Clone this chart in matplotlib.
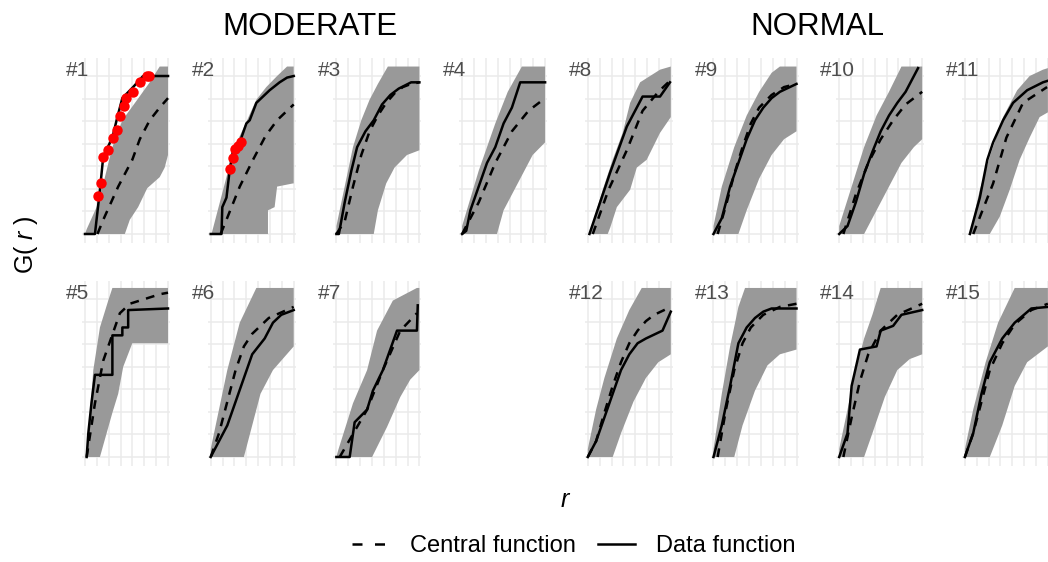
import numpy as np
import matplotlib
matplotlib.use("Agg")
import matplotlib.pyplot as plt
from matplotlib.lines import Line2D

plt.rcParams["font.family"] = ["Liberation Sans", "DejaVu Sans"]
plt.rcParams["mathtext.fontset"] = "custom"
plt.rcParams["mathtext.it"] = "Liberation Sans:italic"
plt.rcParams["mathtext.rm"] = "Liberation Sans"

# -------------------------------
# DATA  (r scaled to 0..1, G(r) values)
# -------------------------------
GROUPS = ["MODERATE", "NORMAL"]
# panel id -> (group column, row) ; #4 sits in the top row, bottom right is empty
LAYOUT = {
    1: (0, 0), 2: (1, 0), 3: (2, 0), 4: (3, 0),
    5: (0, 1), 6: (1, 1), 7: (2, 1),
    8: (4, 0), 9: (5, 0), 10: (6, 0), 11: (7, 0),
    12: (4, 1), 13: (5, 1), 14: (6, 1), 15: (7, 1),
}

env_upper = {
    1: [(0, 0), (0.02, 0.03), (0.14, 0.17), (0.24, 0.36), (0.33, 0.55), (0.45, 0.72), (0.63, 0.85), (0.78, 0.96), (0.9, 1.06), (1, 1.06)],
    2: [(0.01, 0), (0.11, 0.2), (0.19, 0.36), (0.27, 0.53), (0.43, 0.71), (0.55, 0.85), (0.67, 0.93), (0.8, 1.0), (0.92, 1.06), (1, 1.06)],
    3: [(0, 0.05), (0.1, 0.3), (0.2, 0.55), (0.3, 0.72), (0.4, 0.85), (0.5, 0.95), (0.62, 1.06), (1, 1.06)],
    4: [(0, 0.05), (0.2, 0.4), (0.4, 0.7), (0.55, 0.9), (0.72, 1.06), (1, 1.06)],
    5: [(0.02, 0), (0.1, 0.55), (0.18, 0.82), (0.28, 0.99), (0.33, 1.07), (1, 1.07)],
    6: [(0, 0.05), (0.1, 0.3), (0.2, 0.55), (0.35, 0.85), (0.55, 1.07), (1, 1.07)],
    7: [(0.02, 0.04), (0.2, 0.34), (0.37, 0.55), (0.49, 0.8), (0.68, 0.99), (0.97, 1.07), (1, 1.07)],
    8: [(0.02, 0), (0.18, 0.28), (0.3, 0.47), (0.42, 0.64), (0.51, 0.83), (0.63, 0.96), (0.87, 1.04), (1, 1.06)],
    9: [(0, 0.05), (0.1, 0.3), (0.25, 0.55), (0.4, 0.75), (0.55, 0.9), (0.7, 1.02), (0.8, 1.06), (1, 1.06)],
    10: [(0, 0.05), (0.15, 0.3), (0.3, 0.55), (0.45, 0.75), (0.6, 0.9), (0.75, 1.06), (1, 1.06)],
    11: [(0.06, 0), (0.18, 0.28), (0.3, 0.49), (0.46, 0.74), (0.63, 0.91), (0.78, 1.0), (0.94, 1.04), (1, 1.05)],
    12: [(0, 0.05), (0.1, 0.3), (0.2, 0.5), (0.35, 0.75), (0.5, 0.93), (0.65, 1.07), (1, 1.07)],
    13: [(0, 0.05), (0.1, 0.4), (0.2, 0.7), (0.3, 0.95), (0.38, 1.07), (1, 1.07)],
    14: [(0, 0.05), (0.1, 0.3), (0.2, 0.55), (0.3, 0.75), (0.4, 0.9), (0.5, 1.07), (1, 1.07)],
    15: [(0, 0.05), (0.1, 0.3), (0.25, 0.6), (0.4, 0.85), (0.6, 1.07), (1, 1.07)],
}

env_lower = {
    1: [(0, 0), (0.48, 0), (0.54, 0.09), (0.64, 0.17), (0.75, 0.29), (0.9, 0.36), (0.96, 0.42), (1, 0.5)],
    2: [(0, 0), (0.69, 0), (0.69, 0.15), (0.77, 0.17), (0.8, 0.3), (0.99, 0.32), (1, 0.32)],
    3: [(0, 0), (0.45, 0), (0.5, 0.15), (0.6, 0.32), (0.7, 0.42), (0.85, 0.5), (1, 0.53)],
    4: [(0, 0), (0.42, 0), (0.5, 0.15), (0.7, 0.35), (0.85, 0.5), (1, 0.58)],
    5: [(0, 0), (0.18, 0), (0.33, 0.28), (0.4, 0.4), (0.46, 0.57), (0.57, 0.72), (1, 0.72)],
    6: [(0, 0), (0.4, 0), (0.5, 0.2), (0.6, 0.4), (0.75, 0.55), (1, 0.7)],
    7: [(0, 0), (0.43, 0), (0.61, 0.19), (0.77, 0.38), (0.89, 0.49), (1, 0.55)],
    8: [(0, 0), (0.24, 0), (0.27, 0.04), (0.35, 0.17), (0.51, 0.28), (0.59, 0.42), (0.71, 0.47), (0.87, 0.64), (1, 0.74)],
    9: [(0, 0), (0.3, 0), (0.4, 0.15), (0.55, 0.35), (0.7, 0.5), (0.85, 0.6), (1, 0.65)],
    10: [(0, 0), (0.3, 0), (0.45, 0.15), (0.6, 0.3), (0.75, 0.45), (0.9, 0.55), (1, 0.6)],
    11: [(0, 0), (0.3, 0), (0.42, 0.11), (0.54, 0.28), (0.66, 0.47), (0.78, 0.61), (0.9, 0.74), (1, 0.77)],
    12: [(0, 0), (0.3, 0), (0.4, 0.15), (0.55, 0.35), (0.7, 0.5), (0.85, 0.6), (1, 0.65)],
    13: [(0, 0), (0.25, 0), (0.35, 0.2), (0.5, 0.42), (0.65, 0.58), (0.8, 0.65), (1, 0.68)],
    14: [(0, 0), (0.3, 0), (0.4, 0.15), (0.55, 0.38), (0.7, 0.55), (0.85, 0.62), (1, 0.65)],
    15: [(0, 0), (0.3, 0), (0.45, 0.2), (0.6, 0.45), (0.75, 0.6), (1, 0.7)],
}

central = {
    1: [(0.15, 0), (0.22, 0.09), (0.4, 0.3), (0.57, 0.47), (0.66, 0.6), (0.78, 0.72), (0.9, 0.8), (1, 0.86)],
    2: [(0.12, 0), (0.19, 0.09), (0.35, 0.3), (0.51, 0.47), (0.66, 0.62), (0.8, 0.72), (0.92, 0.78), (1, 0.82)],
    3: [(0, 0), (0.1, 0.08), (0.2, 0.3), (0.3, 0.5), (0.4, 0.65), (0.5, 0.75), (0.6, 0.83), (0.7, 0.89), (0.8, 0.93), (0.9, 0.95), (1, 0.96)],
    4: [(0, 0), (0.2, 0.2), (0.4, 0.45), (0.6, 0.65), (0.8, 0.78), (1, 0.86)],
    5: [(0.02, 0), (0.12, 0.34), (0.22, 0.61), (0.32, 0.76), (0.42, 0.91), (0.54, 0.97), (0.9, 1.03), (1, 1.04)],
    6: [(0, 0), (0.1, 0.15), (0.2, 0.35), (0.3, 0.55), (0.4, 0.7), (0.5, 0.78), (0.7, 0.88), (1, 0.95)],
    7: [(0.04, 0), (0.37, 0.3), (0.56, 0.55), (0.77, 0.8), (0.97, 0.91)],
    8: [(0.06, 0), (0.25, 0.28), (0.47, 0.53), (0.66, 0.78), (0.85, 0.9), (0.99, 0.97)],
    9: [(0.05, 0), (0.15, 0.18), (0.25, 0.38), (0.35, 0.55), (0.45, 0.7), (0.55, 0.8), (0.7, 0.88), (0.85, 0.93), (1, 0.95)],
    10: [(0.05, 0), (0.2, 0.25), (0.35, 0.45), (0.5, 0.6), (0.65, 0.72), (0.8, 0.82), (1, 0.9)],
    11: [(0.1, 0), (0.34, 0.32), (0.5, 0.61), (0.7, 0.83), (0.99, 0.93)],
    12: [(0, 0), (0.1, 0.1), (0.2, 0.28), (0.3, 0.45), (0.4, 0.6), (0.5, 0.72), (0.6, 0.8), (0.7, 0.86), (0.8, 0.9), (1, 0.95)],
    13: [(0.05, 0), (0.15, 0.3), (0.25, 0.55), (0.35, 0.72), (0.45, 0.82), (0.6, 0.9), (0.8, 0.95), (1, 0.97)],
    14: [(0.05, 0), (0.15, 0.25), (0.25, 0.48), (0.35, 0.65), (0.5, 0.8), (0.7, 0.9), (1, 0.97)],
    15: [(0, 0), (0.1, 0.15), (0.2, 0.35), (0.3, 0.55), (0.45, 0.72), (0.6, 0.84), (0.8, 0.93), (1, 0.97)],
}

observed = {
    1: [(0, 0), (0.12, 0), (0.18, 0.28), (0.22, 0.49), (0.33, 0.61), (0.39, 0.74), (0.45, 0.86), (0.58, 0.93), (0.7, 1.0), (1, 1.0)],
    2: [(0, 0), (0.13, 0), (0.14, 0.17), (0.19, 0.23), (0.23, 0.41), (0.27, 0.53), (0.35, 0.58), (0.43, 0.7), (0.47, 0.72), (0.55, 0.83), (0.63, 0.87), (0.71, 0.91), (0.83, 0.96), (0.92, 0.99), (1, 1.0)],
    3: [(0, 0), (0.03, 0), (0.1, 0.2), (0.18, 0.4), (0.25, 0.55), (0.35, 0.65), (0.45, 0.72), (0.55, 0.82), (0.65, 0.88), (0.75, 0.92), (0.9, 0.96), (1, 0.96)],
    4: [(0, 0), (0.05, 0.02), (0.1, 0.15), (0.2, 0.3), (0.3, 0.45), (0.4, 0.55), (0.5, 0.7), (0.6, 0.8), (0.7, 0.96), (1, 0.96)],
    5: [(0.02, 0), (0.04, 0.15), (0.08, 0.35), (0.12, 0.52), (0.33, 0.52), (0.33, 0.77), (0.45, 0.77), (0.45, 0.82), (0.52, 0.82), (0.52, 0.93), (1, 0.94)],
    6: [(0, 0), (0.1, 0.1), (0.2, 0.2), (0.3, 0.35), (0.4, 0.5), (0.5, 0.65), (0.65, 0.75), (0.75, 0.85), (0.85, 0.9), (1, 0.93)],
    7: [(0, 0), (0.16, 0), (0.22, 0.22), (0.37, 0.3), (0.44, 0.42), (0.56, 0.55), (0.73, 0.8), (0.97, 0.8), (0.98, 0.96)],
    8: [(0.02, 0), (0.27, 0.39), (0.47, 0.68), (0.59, 0.8), (0.66, 0.87), (0.87, 0.87), (0.99, 0.96)],
    9: [(0, 0), (0.1, 0.1), (0.2, 0.3), (0.3, 0.45), (0.4, 0.6), (0.5, 0.72), (0.6, 0.8), (0.7, 0.86), (0.8, 0.9), (1, 0.95)],
    10: [(0, 0), (0.1, 0.05), (0.2, 0.2), (0.3, 0.38), (0.4, 0.52), (0.5, 0.65), (0.6, 0.75), (0.7, 0.83), (0.8, 0.9), (0.9, 1.0), (0.95, 1.05)],
    11: [(0.06, 0), (0.18, 0.23), (0.27, 0.47), (0.34, 0.58), (0.46, 0.72), (0.58, 0.83), (0.75, 0.91), (0.94, 0.96), (1, 0.97)],
    12: [(0, 0), (0.1, 0.1), (0.2, 0.25), (0.3, 0.4), (0.4, 0.55), (0.5, 0.65), (0.6, 0.72), (0.7, 0.75), (0.9, 0.8), (1, 0.92)],
    13: [(0, 0), (0.1, 0.2), (0.2, 0.45), (0.3, 0.72), (0.4, 0.82), (0.5, 0.88), (0.6, 0.92), (0.7, 0.94), (1, 0.94)],
    14: [(0, 0), (0.1, 0.15), (0.15, 0.45), (0.25, 0.68), (0.45, 0.7), (0.5, 0.8), (0.65, 0.83), (0.75, 0.9), (1, 0.93)],
    15: [(0, 0), (0.1, 0.15), (0.2, 0.4), (0.3, 0.6), (0.45, 0.75), (0.6, 0.85), (0.8, 0.94), (1, 0.95)],
}

# data points falling outside the envelope
outside = {
    1: [(0.16, 0.24), (0.19, 0.32), (0.22, 0.49), (0.28, 0.53), (0.34, 0.61), (0.39, 0.66), (0.42, 0.75),
        (0.47, 0.81), (0.49, 0.86), (0.58, 0.9), (0.66, 0.96), (0.75, 1.0), (0.77, 1.0)],
    2: [(0.23, 0.41), (0.27, 0.48), (0.29, 0.54), (0.33, 0.56), (0.37, 0.58)],
}

# -------------------------------
# FIGURE / PANEL GEOMETRY (pixels)
# -------------------------------
W, H = 1048, 562
fig = plt.figure(figsize=(W / 100, H / 100), dpi=100)

PANEL_W, PANEL_H = 88, 185
COL_LEFT0, COL_STEP = 82, 125.7
ROW_TOP = [58, 281]
LW = 1.8

grid_ticks = np.arange(8) / 7


def add_panel(col, row):
    left = COL_LEFT0 + COL_STEP * col
    top = ROW_TOP[row]
    ax = fig.add_axes([left / W, 1 - (top + PANEL_H) / H, PANEL_W / W, PANEL_H / H])
    ax.set_xlim(-0.036, 1.024)
    ax.set_ylim(-0.057, 1.114)
    ax.set_xticks(grid_ticks)
    ax.set_yticks(grid_ticks)
    ax.grid(True, color="#EBEBEB", linewidth=1.1)
    ax.set_axisbelow(True)
    ax.tick_params(length=0, labelbottom=False, labelleft=False)
    for s in ax.spines.values():
        s.set_visible(False)
    ax.patch.set_alpha(0)
    return ax, left, top


for pid, (col, row) in LAYOUT.items():
    ax, left, top = add_panel(col, row)

    up = np.array(env_upper[pid])
    lo = np.array(env_lower[pid])
    poly = np.vstack([up, lo[::-1]])
    ax.fill(poly[:, 0], poly[:, 1], color="#999999", lw=0, zorder=2)

    c = np.array(central[pid])
    ax.plot(c[:, 0], c[:, 1], color="black", lw=LW, dashes=(3.5, 3), zorder=3)

    d = np.array(observed[pid])
    ax.plot(d[:, 0], d[:, 1], color="black", lw=LW, zorder=4)

    if pid in outside:
        o = np.array(outside[pid])
        ax.plot(o[:, 0], o[:, 1], "o", color="red", ms=7.5, mec="none", zorder=5)

    fig.text((left - 16) / W, 1 - (top + 18) / H, f"#{pid}", fontsize=15,
             color="#4D4D4D", ha="left", va="baseline")

# group titles
fig.text(310 / W, 1 - 35 / H, GROUPS[0], fontsize=22.5, ha="center", va="baseline")
fig.text(817 / W, 1 - 35 / H, GROUPS[1], fontsize=22.5, ha="center", va="baseline")

# axis titles
fig.text(26 / W, 1 - 245 / H, r"G( $\mathit{r}$ )", fontsize=18, rotation=90,
         ha="center", va="center")
fig.text(566 / W, 1 - 500 / H, r"$\mathit{r}$", fontsize=18, ha="center", va="center")

# legend
handles = [
    Line2D([], [], color="black", lw=LW, dashes=(4, 5)),
    Line2D([], [], color="black", lw=LW),
]
fig.legend(handles, ["Central function", "Data function"], loc="center",
           bbox_to_anchor=(574 / W, 1 - 546 / H), ncol=2, frameon=False,
           fontsize=17, handlelength=1.55, handletextpad=0.9, columnspacing=0.95)

fig.savefig("out.png", dpi=100)
